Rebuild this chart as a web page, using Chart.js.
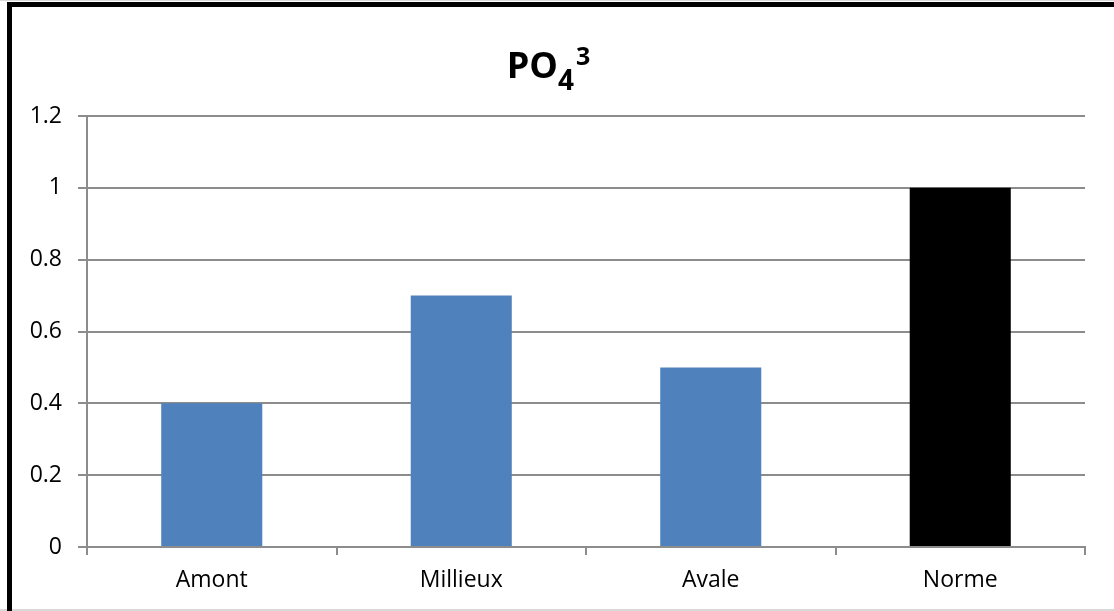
<!DOCTYPE html>
<html>
<head>
<meta charset="utf-8">
<script src="https://cdn.jsdelivr.net/npm/chart.js@4/dist/chart.umd.min.js"></script>
<style>
  html, body { margin: 0; padding: 0; background: #ffffff; }
  #wrap { position: relative; width: 1114px; height: 611px; }
  canvas { display: block; }
</style>
</head>
<body>
<div id="wrap"><canvas id="chart" width="1114" height="611"></canvas></div>
<script>
// Sampling sites and the reference standard
const categories = ['Amont', 'Millieux', 'Avale', 'Norme'];
// PO4 concentrations per site (last value is the standard)
const values = [0.4, 0.7, 0.5, 1.0];
const barColors = ['#4F81BD', '#4F81BD', '#4F81BD', '#000000'];
// Y axis range and step
const yMin = 0;
const yMax = 1.2;
const yStep = 0.2;

const FONT = "'Open Sans', 'Liberation Sans', sans-serif";
const GRID = '#8c8c8c';

// Frame edges and the chemical-formula title with sub/superscript
const framePlugin = {
  id: 'frame',
  beforeDraw(chart) {
    const ctx = chart.ctx;
    ctx.save();
    ctx.fillStyle = '#ffffff';
    ctx.fillRect(0, 0, chart.width, chart.height);
    ctx.fillStyle = '#d9d9d9';
    ctx.fillRect(0, 0, chart.width, 1);
    ctx.fillRect(0, 609, chart.width, 2);
    ctx.fillStyle = '#000000';
    ctx.fillRect(7, 2, chart.width - 7, 5);
    ctx.fillRect(7, 2, 5, 609);
    ctx.restore();
  },
  afterDraw(chart) {
    const ctx = chart.ctx;
    ctx.save();
    ctx.fillStyle = '#000000';
    ctx.textBaseline = 'alphabetic';
    ctx.textAlign = 'left';
    const main = 'bold 36px ' + FONT;
    const sub = 'bold 28px ' + FONT;
    const sup = 'bold 25px ' + FONT;
    ctx.font = main; const w1 = ctx.measureText('PO').width;
    ctx.font = sub;  const w2 = ctx.measureText('4').width;
    ctx.font = sup;  const w3 = ctx.measureText('3').width;
    const total = w1 + w2 + w3 + 2;
    let x = 548.5 - total / 2;
    ctx.font = main; ctx.fillText('PO', x, 78); x += w1;
    ctx.font = sub;  ctx.fillText('4', x, 90); x += w2 + 2;
    ctx.font = sup;  ctx.fillText('3', x, 65);
    ctx.restore();
  }
};

new Chart(document.getElementById('chart'), {
  type: 'bar',
  data: {
    labels: categories,
    datasets: [{
      data: values,
      backgroundColor: barColors,
      borderWidth: 0,
      categoryPercentage: 1.0,
      barPercentage: 0.405
    }]
  },
  options: {
    responsive: false,
    animation: false,
    events: [],
    layout: { padding: { top: 116, right: 29, left: 0, bottom: 0 } },
    plugins: {
      legend: { display: false },
      title: { display: false },
      tooltip: { enabled: false }
    },
    scales: {
      x: {
        afterFit(scale) { scale.height = 64; },
        grid: {
          display: true,
          offset: true,
          drawOnChartArea: false,
          drawTicks: true,
          tickLength: 8,
          color: GRID,
          lineWidth: 2
        },
        border: { display: true, color: GRID, width: 2 },
        ticks: {
          color: '#000000',
          padding: 12,
          font: { family: FONT, size: 23 }
        }
      },
      y: {
        min: yMin,
        max: yMax,
        afterFit(scale) { scale.width = 87; },
        ticks: {
          stepSize: yStep,
          color: '#000000',
          padding: 16,
          font: { family: FONT, size: 23 },
          callback: (v) => String(Math.round(v * 10) / 10)
        },
        grid: {
          color: GRID,
          lineWidth: 2,
          drawTicks: true,
          tickLength: 9
        },
        border: { display: true, color: GRID, width: 2 }
      }
    }
  },
  plugins: [framePlugin]
});
</script>
</body>
</html>
